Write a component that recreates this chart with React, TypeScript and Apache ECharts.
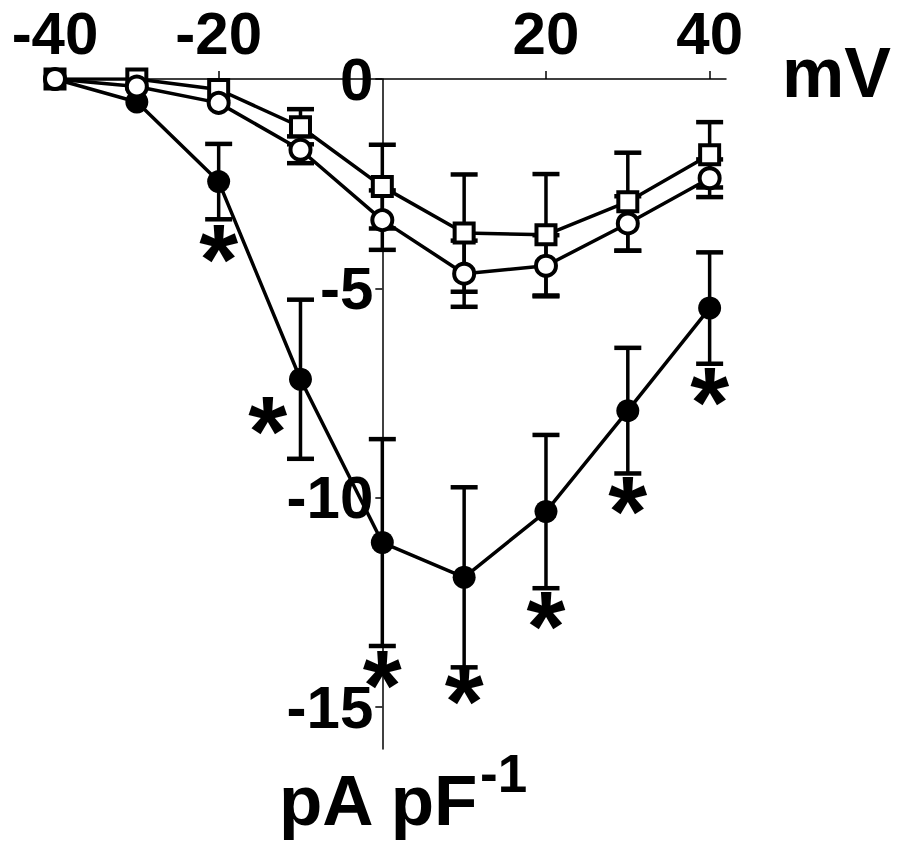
import React, { useEffect, useRef } from 'react';
import * as echarts from 'echarts';

const voltages = [-40, -30, -20, -10, 0, 10, 20, 30, 40];
const filledMean = [0, -0.55, -2.45, -7.17, -11.07, -11.9, -10.33, -7.92, -5.47];
const filledErr = [0, 0, 0.9, 1.9, 2.47, 2.15, 1.83, 1.5, 1.33];
const squareMean = [0, 0, -0.25, -1.14, -2.57, -3.68, -3.72, -2.93, -1.81];
const squareErr = [0, 0, 0, 0.42, 1.0, 1.4, 1.45, 1.17, 0.78];
const circleMean = [0, -0.18, -0.57, -1.69, -3.37, -4.65, -4.46, -3.45, -2.37];
const circleErr = [0, 0, 0, 0.32, 0.71, 0.79, 0.73, 0.65, 0.45];
const starX = [-20, -14, 0, 10, 20, 30, 40];
const starY = [-4.03, -8.14, -14.2, -14.6, -12.8, -10.05, -7.45];
const xTickValues = [-40, -20, 20, 40];
const xLabelValues = [-40, -20, 20, 40];
const yTickValues = [0, -5, -10, -15];
const yLabelValues = [0, -5, -10, -15];
const xName = 'mV';
const yName = 'pA pF';
const yNameSup = '-1';

const FONT = '"Liberation Sans", Arial, Helvetica, sans-serif';

const GRID_LEFT = 55;
const GRID_RIGHT = 175;
const X_MIN = -40;
const X_MAX = 42;
const CHART_W = 901;

function pairs(means: number[]) {
  return voltages.map((v, i) => [v, means[i]]);
}

function errData(means: number[], errs: number[]) {
  const out: number[][] = [];
  voltages.forEach((v, i) => {
    if (errs[i] > 0) out.push([v, means[i] - errs[i], means[i] + errs[i]]);
  });
  return out;
}

function errorSeries(means: number[], errs: number[]) {
  return {
    type: 'custom',
    z: 1,
    silent: true,
    data: errData(means, errs),
    encode: { x: 0, y: [1, 2] },
    renderItem: (params: any, api: any) => {
      const x = api.value(0);
      const lo = api.coord([x, api.value(1)]);
      const hi = api.coord([x, api.value(2)]);
      const hw = 13.5;
      return {
        type: 'group',
        children: [
          { type: 'line', shape: { x1: hi[0], y1: hi[1], x2: lo[0], y2: lo[1] }, style: { stroke: '#000', lineWidth: 3.5 } },
          { type: 'line', shape: { x1: hi[0] - hw, y1: hi[1], x2: hi[0] + hw, y2: hi[1] }, style: { stroke: '#000', lineWidth: 4.5 } },
          { type: 'line', shape: { x1: lo[0] - hw, y1: lo[1], x2: lo[0] + hw, y2: lo[1] }, style: { stroke: '#000', lineWidth: 4.5 } },
        ],
      };
    },
  };
}

export default function App() {
  const ref = useRef<HTMLDivElement>(null);
  useEffect(() => {
    if (!ref.current) return;
    const chart = echarts.init(ref.current, undefined, { renderer: 'svg' });
    const labelStyle = {
      fontSize: 60,
      fontWeight: 'bold' as const,
      fontFamily: FONT,
      color: '#000',
    };
    // place the y axis at x = 0 inside the plot
    const plotW = CHART_W - GRID_LEFT - GRID_RIGHT;
    const yAxisOffset = -((0 - X_MIN) / (X_MAX - X_MIN)) * plotW;
    chart.setOption({
      animation: false,
      backgroundColor: '#fff',
      grid: { left: GRID_LEFT, right: GRID_RIGHT, top: 79, bottom: 94, containLabel: false, outerBoundsMode: 'none' },
      xAxis: {
        type: 'value',
        position: 'top',
        min: X_MIN,
        max: X_MAX,
        interval: 20,
        splitLine: { show: false },
        axisLine: { show: true, onZero: false, lineStyle: { color: '#000', width: 1.5 } },
        axisTick: { show: true, inside: false, length: 8, customValues: xTickValues, lineStyle: { color: '#000', width: 1.5 } },
        axisLabel: { ...labelStyle, margin: 16, customValues: xLabelValues },
      },
      yAxis: {
        type: 'value',
        position: 'left',
        offset: yAxisOffset,
        min: -16,
        max: 0,
        splitLine: { show: false },
        axisLine: { show: true, onZero: false, lineStyle: { color: '#000', width: 1.5 } },
        axisTick: { show: true, inside: false, length: 7, customValues: yTickValues, lineStyle: { color: '#000', width: 1.5 } },
        axisLabel: { ...labelStyle, margin: 9, customValues: yLabelValues },
      },
      graphic: [
        { type: 'text', left: 782, top: 38, style: { text: xName, font: `bold 70px ${FONT}`, fill: '#000' } },
        { type: 'text', left: 279, top: 765, style: { text: yName, font: `bold 71px ${FONT}`, fill: '#000' } },
        { type: 'text', left: 480, top: 747, style: { text: yNameSup, font: `bold 53px ${FONT}`, fill: '#000' } },
      ],
      series: [
        errorSeries(filledMean, filledErr),
        errorSeries(squareMean, squareErr),
        errorSeries(circleMean, circleErr),
        {
          type: 'line',
          z: 2,
          data: pairs(filledMean),
          symbol: 'circle',
          symbolSize: 23,
          lineStyle: { color: '#000', width: 3.5 },
          itemStyle: { color: '#000', borderColor: '#000', borderWidth: 0 },
        },
        {
          type: 'line',
          z: 3,
          data: pairs(squareMean),
          symbol: 'rect',
          symbolSize: 19,
          lineStyle: { color: '#000', width: 3.5 },
          itemStyle: { color: '#fff', borderColor: '#000', borderWidth: 4 },
        },
        {
          type: 'line',
          z: 4,
          data: pairs(circleMean),
          symbol: 'circle',
          symbolSize: 20,
          lineStyle: { color: '#000', width: 3.5 },
          itemStyle: { color: '#fff', borderColor: '#000', borderWidth: 4 },
        },
        {
          type: 'scatter',
          z: 5,
          silent: true,
          data: starX.map((x, i) => [x, starY[i]]),
          symbol: 'circle',
          symbolSize: 1,
          itemStyle: { color: '#000', opacity: 0 },
          label: {
            show: true,
            position: 'inside',
            formatter: '*',
            fontSize: 100,
            fontWeight: 'bold',
            fontFamily: FONT,
            color: '#000',
            opacity: 1,
            textBorderWidth: 0,
            offset: [0, 11],
          },
        },
      ],
    });
    return () => chart.dispose();
  }, []);
  return <div ref={ref} style={{ position: 'absolute', left: 0, top: 0, width: 901, height: 843 }} />;
}
